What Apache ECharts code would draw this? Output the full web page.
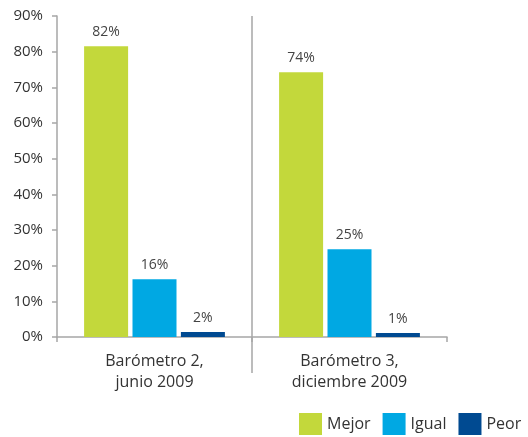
<!DOCTYPE html>
<html>
<head>
<meta charset="utf-8">
<script src="https://cdn.jsdelivr.net/npm/echarts@6/dist/echarts.min.js"></script>
<style>
  html, body { margin: 0; padding: 0; background: #fff; }
  #chart { width: 528px; height: 437px; }
</style>
</head>
<body>
<div id="chart"></div>
<script>
// categorias del eje x
const categories = ['Barómetro 2,\njunio 2009', 'Barómetro 3,\ndiciembre 2009'];
const seriesNames = ['Mejor', 'Igual', 'Peor'];
// valores (%)
const mejor = [81.5, 74.2];
const igual = [16.2, 24.6];
const peor = [1.4, 1.1];
// etiquetas tal como aparecen
const mejorLabels = ['82%', '74%'];
const igualLabels = ['16%', '25%'];
const peorLabels = ['2%', '1%'];
const yTicks = [0, 10, 20, 30, 40, 50, 60, 70, 80, 90];

const colors = ['#c3d83b', '#00a8e3', '#004a91'];
const font = "'Open Sans', 'Noto Sans', sans-serif";
const axisGray = '#a6a6a6';

let myChart = echarts.init(document.getElementById('chart'));

function makeSeries(name, data, labels, color) {
  return {
    name: name,
    type: 'bar',
    data: data,
    barWidth: 44,
    barGap: '10%',
    itemStyle: { color: color },
    label: {
      show: true,
      position: 'top',
      distance: 7,
      color: '#444',
      fontSize: 14,
      fontFamily: font,
      formatter: (p) => labels[p.dataIndex]
    }
  };
}

let option = {
  animation: false,
  textStyle: { fontFamily: font },
  legend: {
    data: seriesNames,
    left: 299,
    top: 413,
    width: 300,
    padding: 0,
    itemWidth: 23,
    itemHeight: 22,
    itemGap: 12,
    icon: 'rect',
    textStyle: { fontSize: 16, color: '#333', fontFamily: font }
  },
  grid: [
    { left: 57, right: 81, top: 16, bottom: 100 },
    // franja bajo el eje para prolongar el separador
    { left: 57, right: 81, top: 16, bottom: 64 }
  ],
  xAxis: [
    {
      type: 'category',
      data: categories,
      gridIndex: 0,
      axisLine: { lineStyle: { color: axisGray, width: 1.5 } },
      axisTick: { show: true, length: 5, lineStyle: { color: axisGray, width: 1.5 } },
      axisLabel: {
        color: '#333',
        fontSize: 16,
        lineHeight: 21,
        margin: 14,
        fontFamily: font
      },
      splitLine: { show: false }
    },
    {
      type: 'category',
      data: categories,
      gridIndex: 1,
      axisLine: { show: false },
      axisTick: { show: false },
      axisLabel: { show: false },
      splitLine: {
        show: true,
        showMinLine: false,
        showMaxLine: false,
        lineStyle: { color: axisGray, width: 1.5 }
      }
    }
  ],
  yAxis: [
    {
      type: 'value',
      gridIndex: 0,
      min: 0,
      max: 90,
      interval: 10,
      axisLine: { show: true, lineStyle: { color: axisGray, width: 1.5 } },
      axisTick: { show: true, length: 5, lineStyle: { color: axisGray, width: 1.5 } },
      axisLabel: {
        color: '#333',
        fontSize: 15,
        margin: 14,
        fontFamily: font,
        formatter: (v) => (yTicks.indexOf(v) >= 0 ? v + '%' : '')
      },
      splitLine: { show: false }
    },
    {
      type: 'value',
      gridIndex: 1,
      show: false,
      min: 0,
      max: 1
    }
  ],
  series: [
    makeSeries(seriesNames[0], mejor, mejorLabels, colors[0]),
    makeSeries(seriesNames[1], igual, igualLabels, colors[1]),
    makeSeries(seriesNames[2], peor, peorLabels, colors[2])
  ]
};
myChart.setOption(option);
</script>
</body>
</html>
